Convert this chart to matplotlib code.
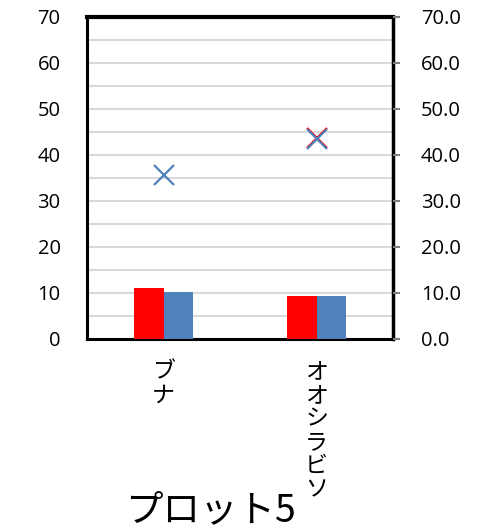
import numpy as np
import matplotlib.pyplot as plt

plt.rcParams['font.family'] = ['Open Sans', 'Noto Sans CJK JP', 'DejaVu Sans']

categories = ['ブナ', 'オオシラビソ']
red_bars = [11.1, 9.3]
blue_bars = [10.2, 9.3]
red_marks = [np.nan, 43.7]
blue_marks = [35.6, 43.5]
title = 'プロット5'

RED = '#FF0000'
BLUE = '#4F81BD'

fig = plt.figure(figsize=(4.86, 5.32), dpi=100)
ax = fig.add_axes([87 / 486, 1 - 339 / 532, 306 / 486, 322 / 532])
ax2 = ax.twinx()

x = np.arange(len(categories))
w = 0.196
ax.bar(x - w / 2, red_bars, width=w, color=RED, zorder=3)
ax.bar(x + w / 2, blue_bars, width=w, color=BLUE, zorder=3)

ax2.plot(x, red_marks, linestyle='none', marker='x', markersize=15,
         markeredgewidth=1.6, color=RED, zorder=4)
ax2.plot(x, blue_marks, linestyle='none', marker='x', markersize=15,
         markeredgewidth=1.6, color=BLUE, zorder=5)

for a in (ax, ax2):
    a.set_xlim(-0.5, len(categories) - 0.5)
    a.set_ylim(0, 70)

ax.set_yticks(np.arange(0, 71, 10))
ax.set_yticks(np.arange(5, 70, 10), minor=True)
ax.grid(axis='y', which='both', color='#D9D9D9', linewidth=1.5, zorder=0)
ax.tick_params(axis='y', which='both', length=0, labelsize=14.5, pad=19)
ax.tick_params(axis='x', length=0)
ax.set_xticks(x)
ax.set_xticklabels([])

ax2.set_yticks(np.arange(0, 71, 10))
ax2.set_yticklabels([f'{v:.1f}' for v in np.arange(0, 71, 10)])
ax2.tick_params(axis='y', length=5, width=1.5, color='#808080',
                labelsize=14.5, pad=15)

for name in ('left', 'top', 'bottom'):
    ax.spines[name].set_color('black')
    ax.spines[name].set_linewidth(2.2)
ax.spines['top'].set_linewidth(3)
ax.spines['right'].set_visible(False)
for name in ('left', 'top', 'bottom'):
    ax2.spines[name].set_visible(False)
ax2.spines['right'].set_color('black')
ax2.spines['right'].set_linewidth(2.5)
ax2.spines['right'].set_zorder(1)
ax.set_zorder(ax2.get_zorder() - 1)
ax2.patch.set_visible(False)
ax.patch.set_facecolor('white')

# category names written vertically, one character per line
for xi, name in zip(x, categories):
    ax.text(xi, -4.6, '\n'.join(name), ha='center', va='top',
            fontsize=16.5, linespacing=1.04,
            family=['Noto Sans CJK JP', 'DejaVu Sans'])

fig.text(210 / 486, 1 - 511 / 532, title, ha='center', va='center',
         fontsize=27, family=['Noto Sans CJK JP', 'DejaVu Sans'])

fig.savefig('out.png', dpi=100, facecolor='white')
